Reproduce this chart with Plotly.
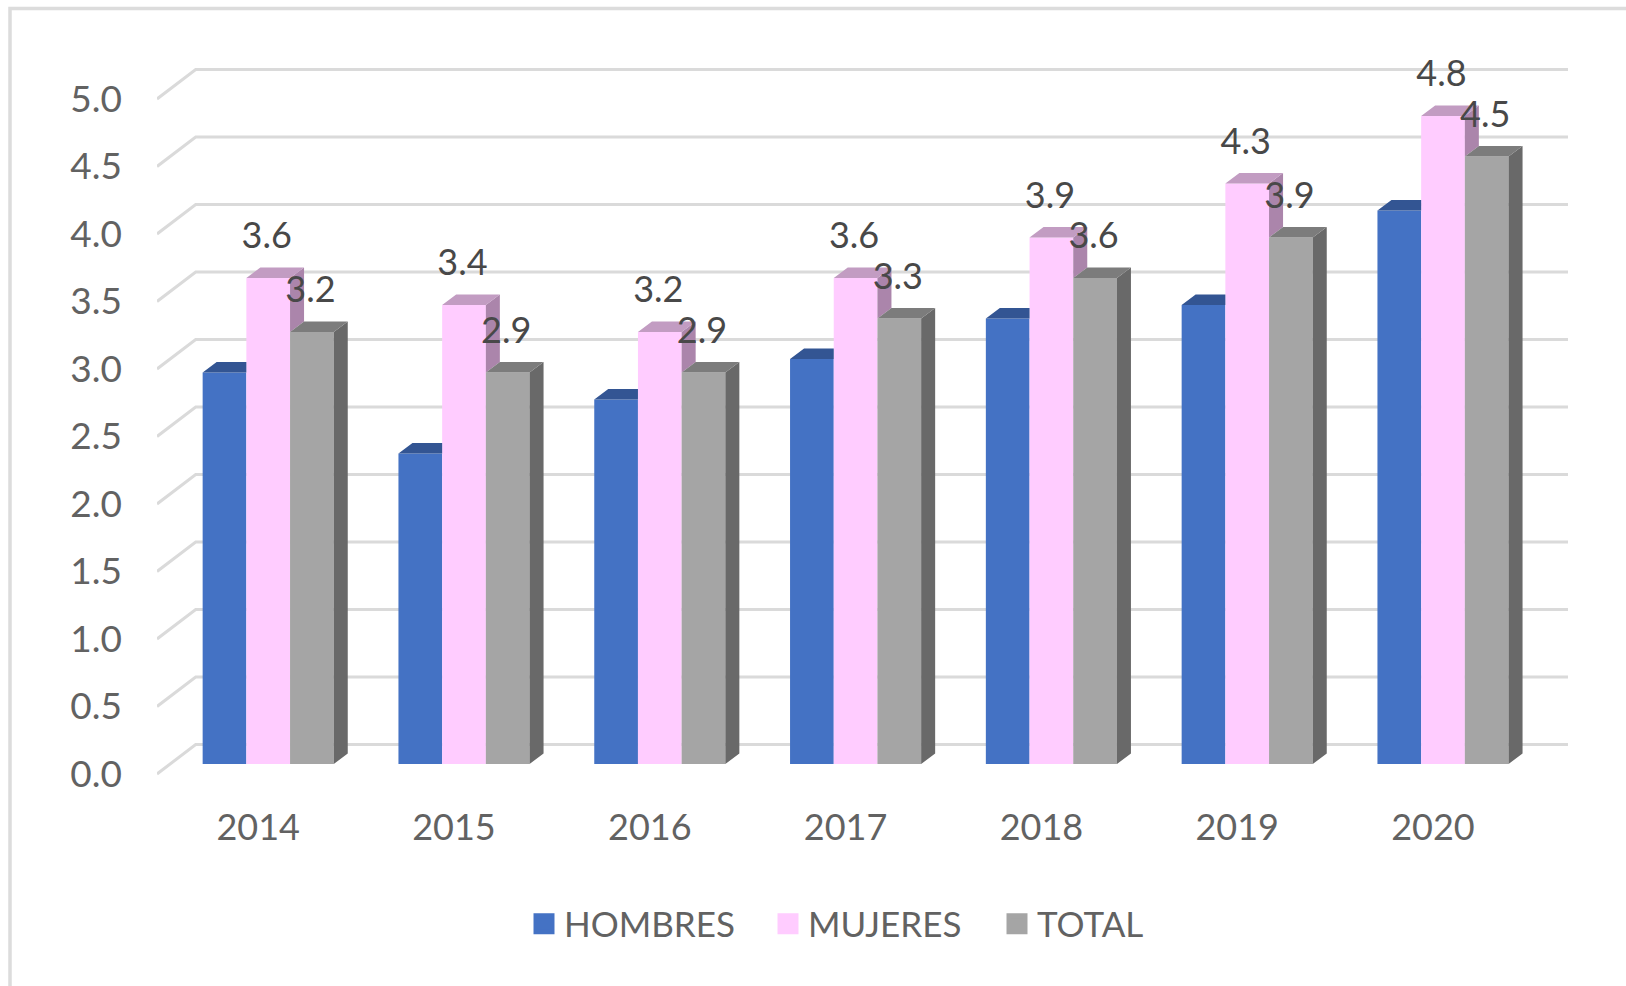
import plotly.graph_objects as go

years = [2014, 2015, 2016, 2017, 2018, 2019, 2020]
hombres = [2.9, 2.3, 2.7, 3.0, 3.3, 3.4, 4.1]
mujeres = [3.6, 3.4, 3.2, 3.6, 3.9, 4.3, 4.8]
total = [3.2, 2.9, 2.9, 3.3, 3.6, 3.9, 4.5]
y_ticks = [0.0, 0.5, 1.0, 1.5, 2.0, 2.5, 3.0, 3.5, 4.0, 4.5, 5.0]

BLUE, PINK, GRAY = "#4472C4", "#FFCCFF", "#A5A5A5"
TOPS = {"h": "#335593", "m": "#C29CC2", "t": "#7C7C7C"}
SIDES = {"m": "#AB85AB", "t": "#696969"}
FONT = "Lato, 'Open Sans', sans-serif"
TXT = "#626262"
LABEL = "#484848"

W, H = 1626, 986
L, R, T, B = 157, 1568, 40, 790          # plot box in px
FLOOR = 764                               # px of value 0 at bar front
PX_Y = 135.0                              # px per unit of value
PX_X = 195.8                              # px per category
CENTER0 = 268.2                           # px of first category centre
BAR = 43.7 / PX_X                         # one bar's width, category units
DX, DY = 14.0 / PX_X, 10.5 / PX_Y         # bar depth
xr = [years[0] + (L - CENTER0) / PX_X, years[0] + (R - CENTER0) / PX_X]
yr = [(FLOOR - B) / PX_Y, (FLOOR - T) / PX_Y]

# side wall / back wall offsets of the grid
GRID_FRONT = -10 / PX_Y
GRID_BACK = 19.5 / PX_Y
GRID_BACK_X = xr[0] + 38.7 / PX_X

fig = go.Figure()

for name, vals, col in [("HOMBRES", hombres, BLUE), ("MUJERES", mujeres, PINK), ("TOTAL", total, GRAY)]:
    fig.add_trace(go.Bar(x=years, y=vals, name=name, marker=dict(color=col, line_width=0),
                         showlegend=False, hoverinfo="x+y+name"))


def add_poly(polys, color):
    xs, ys = [], []
    for p in polys:
        xs += [q[0] for q in p] + [p[0][0], None]
        ys += [q[1] for q in p] + [p[0][1], None]
    fig.add_trace(go.Scatter(x=xs, y=ys, mode="lines", fill="toself", fillcolor=color,
                             line=dict(width=0, color=color), showlegend=False, hoverinfo="skip"))


blue_top, pink_top, gray_top, pink_side, gray_side = [], [], [], [], []
for yr_, h, m, t in zip(years, hombres, mujeres, total):
    x0 = yr_ - 1.5 * BAR
    x1, x2, x3 = x0 + BAR, x0 + 2 * BAR, x0 + 3 * BAR
    blue_top.append([(x0, h), (x0 + DX, h + DY), (x1, h + DY), (x1, h)])
    pink_top.append([(x1, m), (x1 + DX, m + DY), (x2 + DX, m + DY), (x2, m)])
    gray_top.append([(x2, t), (x2 + DX, t + DY), (x3 + DX, t + DY), (x3, t)])
    pink_side.append([(x2, t), (x2, m), (x2 + DX, m + DY), (x2 + DX, t + DY)])
    gray_side.append([(x3, 0), (x3, t), (x3 + DX, t + DY), (x3 + DX, DY)])

add_poly(blue_top, TOPS["h"])
add_poly(pink_side, SIDES["m"])
add_poly(pink_top, TOPS["m"])
add_poly(gray_side, SIDES["t"])
add_poly(gray_top, TOPS["t"])

# data labels
LIFT = 39 / PX_Y
NUDGE = -1.5 / PX_X
fig.add_trace(go.Scatter(
    x=[y + NUDGE for y in years], y=[v + LIFT for v in mujeres], text=[f"{v:.1f}" for v in mujeres],
    mode="text", textposition="middle center", textfont=dict(family=FONT, size=36, color=LABEL),
    showlegend=False, hoverinfo="skip"))
fig.add_trace(go.Scatter(
    x=[y + BAR + NUDGE for y in years], y=[v + LIFT for v in total], text=[f"{v:.1f}" for v in total],
    mode="text", textposition="middle center", textfont=dict(family=FONT, size=36, color=LABEL),
    showlegend=False, hoverinfo="skip"))

# legend key traces, one legend each so that every entry sits where the reference has it
legends = [("HOMBRES", BLUE, "legend", 524), ("MUJERES", PINK, "legend2", 768), ("TOTAL", GRAY, "legend3", 997)]
for name, col, lg, _ in legends:
    fig.add_trace(go.Scatter(x=[None], y=[None], mode="markers", name=name, legend=lg,
                             marker=dict(symbol="square", size=16, color=col, line=dict(width=5, color=col))))

shapes = []
for v in y_ticks:
    shapes.append(dict(
        type="path", xref="x", yref="y", layer="below",
        path=f"M{xr[0]},{v + GRID_FRONT} L{GRID_BACK_X},{v + GRID_BACK} L{xr[1]},{v + GRID_BACK}",
        line=dict(color="#DADADA", width=3)))
# chart-area frame: left and top edges
shapes.append(dict(type="path", xref="paper", yref="paper", layer="below",
                   path=f"M{(10 - L) / (R - L)},{(B - H) / (B - T)} "
                        f"L{(10 - L) / (R - L)},{(B - 8.5) / (B - T)} "
                        f"L{(W - L) / (R - L)},{(B - 8.5) / (B - T)}",
                   line=dict(color="#DCDCDC", width=3.5)))

layout = dict(
    width=W, height=H,
    margin=dict(l=L, r=W - R, t=T, b=H - B, autoexpand=False),
    paper_bgcolor="white", plot_bgcolor="rgba(0,0,0,0)",
    barmode="group", bargap=1 - 3 * BAR, bargroupgap=0,
    shapes=shapes,
    hovermode="closest",
    xaxis=dict(range=xr, tickmode="array", tickvals=[y - 10 / PX_X for y in years],
               ticktext=[str(y) for y in years], showgrid=False, zeroline=False, showline=False,
               ticks="", ticklabelstandoff=13, automargin=False,
               tickfont=dict(family=FONT, size=36, color=TXT)),
    yaxis=dict(range=yr, tickmode="array", tickvals=[v + GRID_FRONT for v in y_ticks],
               ticktext=[f"{v:.1f}" for v in y_ticks], showgrid=False, zeroline=False, showline=False,
               ticks="", ticklabelstandoff=34, automargin=False,
               tickfont=dict(family=FONT, size=37, color=TXT)),
)
for name, col, lg, px in legends:
    layout[lg] = dict(xref="container", yref="container", x=px / W, y=1 - 924 / H, xanchor="left", yanchor="middle",
                      bgcolor="rgba(0,0,0,0)", font=dict(family=FONT, size=35, color=TXT),
                      itemclick=False, itemdoubleclick=False, tracegroupgap=0)
fig.update_layout(**layout)
fig.write_html("out.html", config=dict(displayModeBar=False), post_script="document.body.style.margin='0';")
